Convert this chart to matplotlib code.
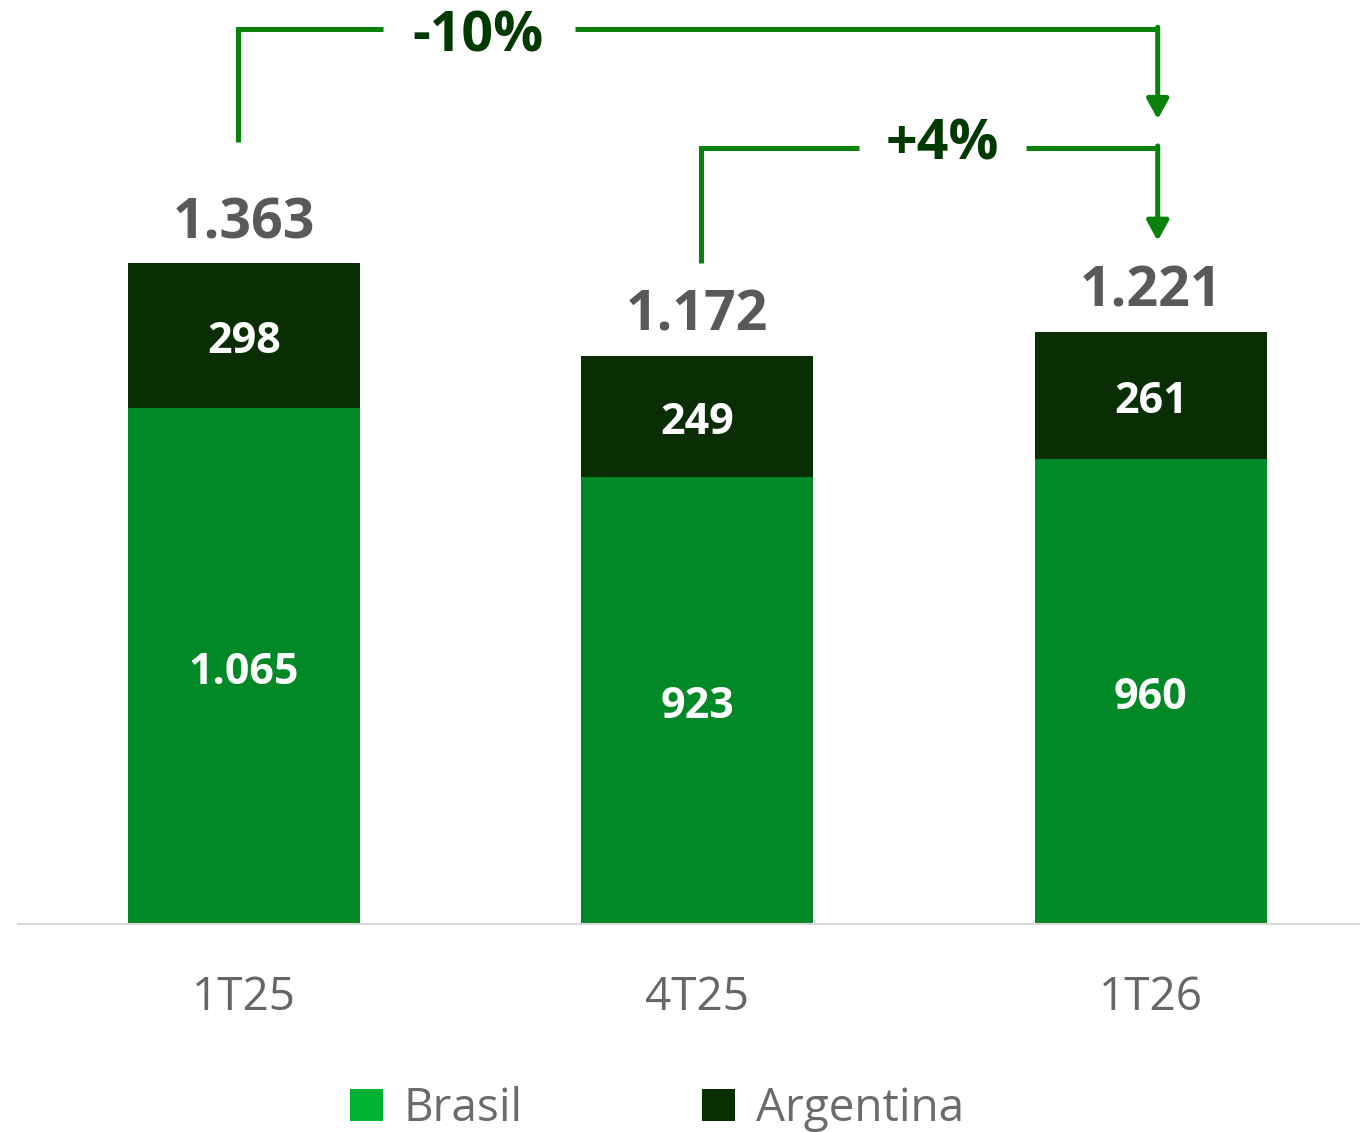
#!/usr/bin/env python3
"""Stacked bars Brasil / Argentina with change brackets."""
import matplotlib
matplotlib.use("Agg")
import matplotlib.pyplot as plt
from matplotlib.patches import Patch

#---------------------------- Data ----------------------------
periods = ["1T25", "4T25", "1T26"]
brasil = [1065, 923, 960]
argentina = [298, 249, 261]
totals = [1363, 1172, 1221]
total_labels = ["1.363", "1.172", "1.221"]
brasil_labels = ["1.065", "923", "960"]
argentina_labels = ["298", "249", "261"]
changes = ["-10%", "+4%"]

BRASIL_COLOR = "#008926"
ARG_COLOR = "#0a2e03"
LINE_COLOR = "#08820a"
PCT_COLOR = "#013a01"
GRAY = "#595959"
FONT = "Open Sans"

fig = plt.figure(figsize=(13.6, 11.32), dpi=100)
ax = fig.add_axes([18 / 1360, 208 / 1132, 1342 / 1360, 924 / 1132])
ax.set_xlim(-0.498, 2.461)
ax.set_ylim(0, 1906)

x = list(range(len(periods)))
width = 0.512
ax.bar(x, brasil, width, color=BRASIL_COLOR)
ax.bar(x, argentina, width, bottom=brasil, color=ARG_COLOR)

for i in x:
    # small downward nudge so the digits sit in the middle of each segment
    ax.text(i, brasil[i] / 2 - 13, brasil_labels[i], ha="center", va="center",
            color="white", fontsize=31, fontweight="bold", family=FONT)
    ax.text(i, brasil[i] + argentina[i] / 2 - 12, argentina_labels[i],
            ha="center", va="center", color="white", fontsize=31,
            fontweight="bold", family=FONT)
    ax.text(i, totals[i] + 52, total_labels[i], ha="center", va="baseline",
            color=GRAY, fontsize=40, fontweight="bold", family=FONT)

# brackets: (x start, y start, y top, x end, arrow tip, gap left, gap right, text x, text baseline)
brackets = [
    (-0.013, totals[0] + 250, 1846, 2.015, 1660, 0.307, 0.730, 0.516, 1799),
    (1.009, totals[1] + 191, 1601, 2.015, 1409, 1.357, 1.725, 1.540, 1578),
]
for k, (x0, y0, ytop, x1, ytip, g0, g1, tx, ty) in enumerate(brackets):
    ax.plot([x0, x0, g0], [y0, ytop, ytop], color=LINE_COLOR, lw=3.6,
            solid_joinstyle="miter", solid_capstyle="butt")
    ax.plot([g1, x1], [ytop, ytop], color=LINE_COLOR, lw=3.6,
            solid_capstyle="butt")
    ax.annotate("", xy=(x1, ytip), xytext=(x1, ytop + 4),
                arrowprops=dict(arrowstyle="-|>,head_length=0.6,head_width=0.33",
                                color=LINE_COLOR, lw=3.6, mutation_scale=20,
                                shrinkA=0, shrinkB=0))
    ax.text(tx, ty, changes[k], ha="center", va="baseline", color=PCT_COLOR,
            fontsize=40, fontweight="bold", family=FONT)

ax.set_xticks(x)
ax.set_xticklabels(periods, fontsize=33, color="#666666", family=FONT)
ax.tick_params(axis="x", length=0, pad=37)
ax.set_yticks([])
for side in ["left", "right", "top"]:
    ax.spines[side].set_visible(False)
ax.spines["bottom"].set_color("#d9d9d9")
ax.spines["bottom"].set_linewidth(1.5)

handles = [Patch(facecolor="#00b234", label="Brasil"),
           Patch(facecolor=ARG_COLOR, label="Argentina")]
leg = fig.legend(handles=handles, loc="center", bbox_to_anchor=(0.483, 1 - 1109 / 1132),
                 ncol=2, frameon=False, handlelength=0.73, handleheight=0.73,
                 handletextpad=0.45, columnspacing=3.9,
                 prop={"family": FONT, "size": 33})
for t in leg.get_texts():
    t.set_color("#6b6b6b")

fig.savefig("out.png", dpi=100)
